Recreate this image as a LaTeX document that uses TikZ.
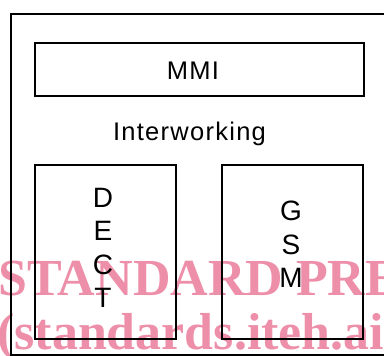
\documentclass[tikz,border=0pt]{standalone}
\usepackage{fontspec}
\setmainfont{Liberation Sans}
\newfontfamily\spacedfont[LetterSpace=5]{Liberation Sans}
\newfontfamily\wmfont{Liberation Serif}
\usetikzlibrary{positioning}
\definecolor{wmpink}{RGB}{238,143,170}

\begin{document}
\begin{tikzpicture}[x=1pt, y=-1pt,
  block/.style={draw, line width=1.5pt, inner sep=0pt, outer sep=0pt},
  txt/.style={font=\spacedfont\fontsize{25.5}{30}\selectfont, inner sep=0pt, anchor=base},
  stack/.style={font=\fontsize{28}{33.3}\selectfont, align=center, inner sep=0pt, anchor=north},
  wm/.style={text=wmpink, font=\wmfont\bfseries\fontsize{52}{52}\selectfont, anchor=base west, inner sep=0pt}]
\useasboundingbox (0,0) rectangle (384,356);
\clip (0,0) rectangle (384,356);

% watermark
\node[wm] (wm1) at (-2,295) {STANDARD PRE};
\node[wm] (wm2) at (-3,349) {(standards.iteh.ai};

\node[block, anchor=north west, minimum width=400pt, minimum height=341pt] (outer) at (11,14) {};
\node[block, anchor=north west, minimum width=329pt, minimum height=53pt] (mmibox) at (35,43) {};
\node[txt] (mmi) at (193,80) {MMI};
\node[txt] (iw) at (189.5,140) {Interworking};

\node[block, anchor=north west, minimum width=141pt, minimum height=174pt] (dect) at (35,165) {};
\node[block, minimum width=141pt, minimum height=174pt] (gsm) [right=46pt of dect] {};

\node[stack] (dectname) at (103,188) {D\\E\\C\\T};
\node[stack] (gsmname) at (291,201) {G\\S\\M};
\end{tikzpicture}
\end{document}
